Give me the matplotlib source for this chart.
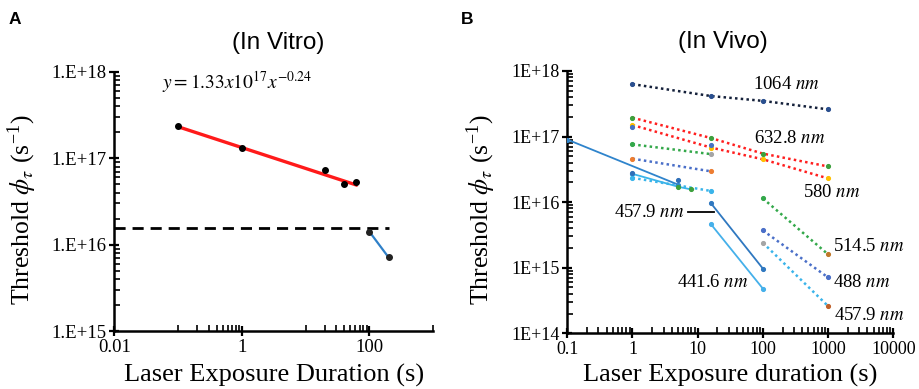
import matplotlib.pyplot as plt
import matplotlib.ticker as mticker

plt.rcParams['mathtext.fontset'] = 'stix'
SERIF = 'Liberation Serif'
SANS = 'Liberation Sans'

# ---- panel A data (in vitro) ----
vitro_x = [0.1, 1, 20, 40, 62]
vitro_y = [2.35e17, 1.32e17, 7.2e16, 5.0e16, 5.3e16]
fit_x = [0.1, 62]
fit_y = [2.31e17, 4.9e16]
drop_x = [100, 200]
drop_y = [1.41e16, 7.1e15]
thresh_x = [0.01, 200]
thresh_y = [1.57e16, 1.57e16]

# ---- panel B data (in vivo) ----
x_1064 = [1, 16, 100, 1000]
y_1064 = [6.3e17, 4.15e17, 3.5e17, 2.6e17]
x_6328 = [1, 16, 100, 1000]
y_6328 = [1.94e17, 9.5e16, 5.5e16, 3.5e16]
x_580 = [1, 16, 100, 1000]
y_580 = [1.5e17, 6.8e16, 4.5e16, 2.3e16]
x_green_a = [1, 16]
y_green_a = [7.6e16, 5.4e16]
x_blue_a = [1, 16]
y_blue_a = [4.6e16, 2.95e16]
x_cyan_a = [1, 16]
y_cyan_a = [2.35e16, 1.48e16]
x_solid_a = [0.1, 5]
y_solid_a = [9.0e16, 1.85e16]
x_solid_b = [1, 5, 8]
y_solid_b = [2.7e16, 1.72e16, 1.56e16]
x_extra = [1, 5]
y_extra = [2.8e16, 2.17e16]
x_4579s = [16, 100]
y_4579s = [9.6e15, 9.7e14]
x_4416 = [16, 100]
y_4416 = [4.6e15, 4.8e14]
x_5145 = [100, 1000]
y_5145 = [1.14e16, 1.6e15]
x_488 = [100, 1000]
y_488 = [3.7e15, 7.1e14]
x_4579d = [100, 1000]
y_4579d = [2.4e15, 2.6e14]

fig = plt.figure(figsize=(9.19, 3.89), dpi=100)
axA = fig.add_axes([0.1244, 0.149, 0.347, 0.6666])
axB = fig.add_axes([0.6173, 0.1432, 0.3547, 0.6743])


def style_axis(ax, size):
    for s in ['top', 'right']:
        ax.spines[s].set_visible(False)
    for s in ['left', 'bottom']:
        ax.spines[s].set_linewidth(1.8)
    ax.tick_params(which='major', direction='inout', length=7, width=1.6,
                   labelsize=size, pad=2)
    ax.tick_params(which='minor', direction='in', length=4, width=1.2)
    for lab in ax.get_xticklabels() + ax.get_yticklabels():
        lab.set_fontfamily(SERIF)


# ---------- panel A ----------
axA.set_xscale('log')
axA.set_yscale('log')
axA.set_xlim(0.01, 1000)
axA.set_ylim(1e15, 1e18)
axA.plot(fit_x, fit_y, color='#ff1a1a', lw=2.4, zorder=2)
axA.plot(vitro_x, vitro_y, 'o', color='black', ms=4, zorder=3)
axA.plot(thresh_x, thresh_y, color='black', lw=2, ls=(0, (4, 2.5)), zorder=2)
axA.plot(drop_x, drop_y, color='#2f80c8', lw=1.6, marker='o', ms=4,
         mfc='#222222', mec='#222222', zorder=3)
axA.xaxis.set_major_locator(mticker.FixedLocator([0.01, 1, 100]))
axA.xaxis.set_major_formatter(mticker.FixedFormatter(['0.01', '1', '100']))
axA.xaxis.set_minor_locator(mticker.FixedLocator(
    [0.1, 0.2, 0.3, 0.4, 0.5, 0.6, 0.7, 0.8, 0.9,
     10, 20, 30, 40, 50, 60, 70, 80, 90, 1000]))
axA.xaxis.set_minor_formatter(mticker.NullFormatter())
axA.yaxis.set_major_locator(mticker.FixedLocator([1e15, 1e16, 1e17, 1e18]))
axA.yaxis.set_major_formatter(mticker.FixedFormatter(
    ['1.E+15', '1.E+16', '1.E+17', '1.E+18']))
axA.yaxis.set_minor_locator(mticker.LogLocator(base=10, subs=range(2, 10)))
axA.yaxis.set_minor_formatter(mticker.NullFormatter())
style_axis(axA, 13.5)
axA.text(0.835, 7.66e17, r'$y=1.33x10^{17}x^{-0.24}$', fontsize=14,
         ha='center', va='center')
axA.set_xlabel('Laser Exposure Duration (s)', fontsize=19, family=SERIF)
axA.set_ylabel(r'Threshold $\mathit{\phi}_{\tau}$ (s$^{\mathregular{-1}}$)',
               fontsize=18.5, family=SERIF)
axA.xaxis.set_label_coords(0.5, -0.17)
axA.xaxis.label.set_va('center')
axA.yaxis.set_label_coords(-0.29, 0.47)
axA.yaxis.label.set_va('center')

# ---------- panel B ----------
axB.set_xscale('log')
axB.set_yscale('log')
axB.set_xlim(0.1, 10000)
axB.set_ylim(1e14, 1e18)

dot = (0, (1, 1.3))
ms = 2.7


def series(ax, x, y, color, ls, mcols, lw=1.8):
    ax.plot(x, y, color=color, ls=ls, lw=lw, zorder=2)
    for xi, yi, c in zip(x, y, mcols):
        ax.plot([xi], [yi], 'o', color=c, ms=ms, zorder=3)


series(axB, x_1064, y_1064, '#14203a', dot, ['#2a4f8f'] * 4)
series(axB, x_6328, y_6328, '#ff1f1f', dot,
       ['#3ca03c', '#3ca03c', '#3ca03c', '#3ca03c'])
series(axB, x_580, y_580, '#ff1f1f', dot,
       ['#ffc000', '#ffc000', '#ffc000', '#ffc000'])
axB.plot([1, 16], [1.38e17, 7.5e16], 'o', color='#4472c4', ms=ms, zorder=3)
series(axB, x_green_a, y_green_a, '#33a84a', dot, ['#33a84a', '#a5a5a5'])
series(axB, x_blue_a, y_blue_a, '#4a6fc8', dot, ['#ed7d31', '#ed7d31'])
series(axB, x_cyan_a, y_cyan_a, '#3ab4ea', dot, ['#3ab4ea', '#3ab4ea'])
series(axB, x_solid_a, y_solid_a, '#2f84cc', '-', ['#2f84cc', '#2f84cc'],
       lw=1.3)
series(axB, x_solid_b, y_solid_b, '#3ab4ea', '-',
       ['#3ab4ea', '#3ca03c', '#3ca03c'], lw=1.3)
axB.plot(x_extra, y_extra, 'o', color='#2f6fb8', ms=ms, zorder=3)
series(axB, x_4579s, y_4579s, '#2f78c0', '-', ['#2f78c0', '#2f78c0'], lw=1.3)
series(axB, x_4416, y_4416, '#45b0ea', '-', ['#45b0ea', '#45b0ea'], lw=1.3)
series(axB, x_5145, y_5145, '#33a84a', dot, ['#33a84a', '#c0782a'])
series(axB, x_488, y_488, '#4a6fc8', dot, ['#4a6fc8', '#4a6fc8'])
series(axB, x_4579d, y_4579d, '#3ab4ea', dot, ['#a5a5a5', '#c0602a'])

axB.xaxis.set_major_locator(mticker.FixedLocator([0.1, 1, 10, 100, 1000, 10000]))
axB.xaxis.set_major_formatter(mticker.FixedFormatter(
    ['0.1', '1', '10', '100', '1000', '10000']))
axB.xaxis.set_minor_locator(mticker.LogLocator(base=10, subs=range(2, 10)))
axB.xaxis.set_minor_formatter(mticker.NullFormatter())
axB.yaxis.set_major_locator(mticker.FixedLocator([1e14, 1e15, 1e16, 1e17, 1e18]))
axB.yaxis.set_major_formatter(mticker.FixedFormatter(
    ['1E+14', '1E+15', '1E+16', '1E+17', '1E+18']))
axB.yaxis.set_minor_locator(mticker.LogLocator(base=10, subs=range(2, 10)))
axB.yaxis.set_minor_formatter(mticker.NullFormatter())
style_axis(axB, 13)

lab_kw = dict(fontsize=13.5, family=SERIF, va='center')
axB.text(226, 6.3e17, r'1064 $nm$', ha='center', **lab_kw)
axB.text(260, 9.25e16, r'632.8 $nm$', ha='center', **lab_kw)
axB.text(1135, 1.39e16, r'580 $nm$', ha='center', **lab_kw)
axB.text(4240, 2.08e15, r'514.5 $nm$', ha='center', **lab_kw)
axB.text(3310, 5.9e14, r'488 $nm$', ha='center', **lab_kw)
axB.text(4240, 1.88e14, r'457.9 $nm$', ha='center', **lab_kw)
axB.text(17, 6.0e14, r'441.6 $nm$', ha='center', **lab_kw)
axB.text(6.3, 6.97e15, r'457.9 $nm$', ha='right', **lab_kw)
axB.plot([7.05, 17.7], [6.97e15, 6.97e15], color='black', lw=1.3)

axB.set_xlabel('Laser Exposure duration (s)', fontsize=19, family=SERIF)
axB.set_ylabel(r'Threshold $\mathit{\phi}_{\tau}$ (s$^{\mathregular{-1}}$)',
               fontsize=18.5, family=SERIF)
axB.xaxis.set_label_coords(0.5, -0.159)
axB.xaxis.label.set_va('center')
axB.yaxis.set_label_coords(-0.263, 0.47)
axB.yaxis.label.set_va('center')

fig.text(0.3025, 0.890, '(In Vitro)', fontsize=17.5, family=SANS,
         ha='center', va='center')
fig.text(0.787, 0.892, '(In Vivo)', fontsize=17.5, family=SANS,
         ha='center', va='center')
fig.text(0.0163, 0.949, 'A', fontsize=12.5, family=SANS, weight='bold',
         ha='center', va='center')
fig.text(0.508, 0.949, 'B', fontsize=12.5, family=SANS, weight='bold',
         ha='center', va='center')

fig.savefig('out.png', dpi=100)
